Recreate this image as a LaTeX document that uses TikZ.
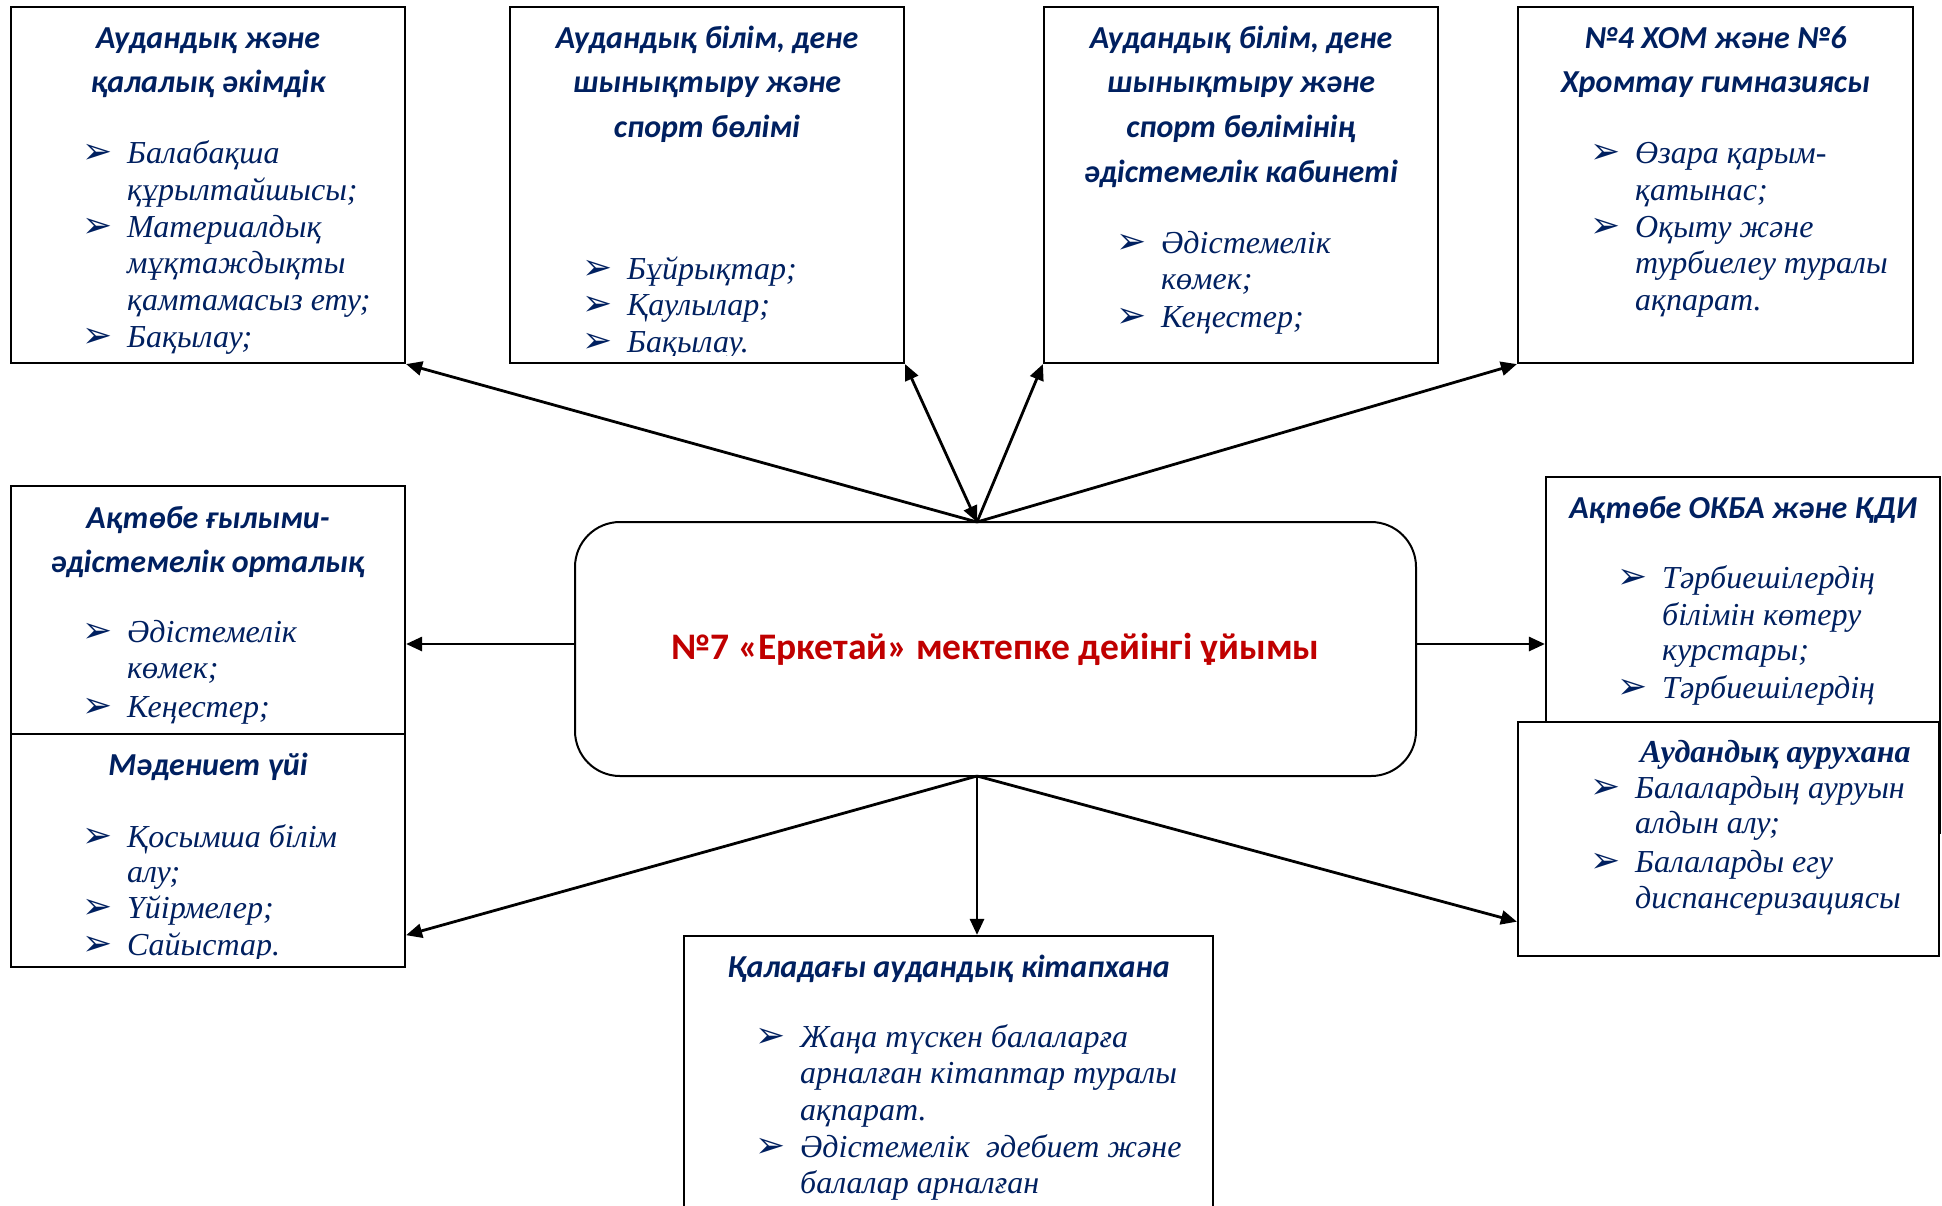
\documentclass[tikz,border=0pt]{standalone}
\usepackage{fontspec}
\setmainfont{Liberation Serif}
\newfontfamily\ttlf{Carlito}
\newfontfamily\mkf{DejaVu Sans}
\usetikzlibrary{arrows.meta,calc}
\definecolor{navy}{HTML}{002060}
\definecolor{redc}{HTML}{C00000}
\newcommand\bul[4]{\node[mrk] (#1m) at (#2,#3) {➢}; \node[itm] (#1) at (#2+45,#3) {#4};}
\newcommand\txl[4]{\node[itm] (#1) at (#2,#3) {#4};}
\newcommand\tline[4]{\node[ttl] (#1) at (#2,#3) {#4};}
\tikzset{
  box/.style={draw=black, line width=2.2pt, fill=white, inner sep=0, rectangle},
  ttl/.style={font=\ttlf\bfseries\itshape\fontsize{32}{38}\selectfont, text=navy, anchor=base, inner sep=0},
  itm/.style={font=\itshape\fontsize{32}{38}\selectfont, text=navy, anchor=base west, inner sep=0},
  mrk/.style={font=\mkf\fontsize{36}{40}\selectfont, text=navy, anchor=base west, inner sep=0},
  arr/.style={draw=black, line width=2.8pt, -{Triangle[length=16pt,width=14pt]}},
  darr/.style={draw=black, line width=2.8pt, {Triangle[length=16pt,width=14pt]}-{Triangle[length=16pt,width=14pt]}},
  cbox/.style={draw=black, line width=2pt, fill=white, rounded corners=45pt, minimum width=841pt, minimum height=254pt, inner sep=0}
}
\begin{document}
\begin{tikzpicture}[x=1pt,y=-1pt]
\clip (0,0) rectangle (1942,1205);
\fill[white] (0,0) rectangle (1942,1205);
% Box 1
\node[box, minimum width=394pt, minimum height=356pt] (b1) at (208,185) {};
\tline{t1a}{208}{48}{Аудандық және}
\tline{t1b}{208}{92}{қалалық әкімдік}
\bul{i1a}{82}{163}{Балабақша}
\txl{i1b}{127}{200}{құрылтайшысы;}
\bul{i1c}{82}{237}{Материалдық}
\txl{i1d}{127}{273}{мұқтаждықты}
\txl{i1e}{127}{310}{қамтамасыз ету;}
\bul{i1f}{82}{347}{Бақылау;}
% Box 2
\node[box, minimum width=394pt, minimum height=356pt] (b2) at (707,185) {};
\tline{t2a}{707}{48}{Аудандық білім, дене}
\tline{t2b}{707}{92}{шынықтыру және}
\tline{t2c}{707}{137}{спорт бөлімі}
\begin{scope}
\clip (512,9) rectangle (902,355);
\bul{i2a}{582}{279}{Бұйрықтар;}
\bul{i2b}{582}{315}{Қаулылар;}
\bul{i2c}{582}{352}{Бақылау.}
\end{scope}
% Box 3
\node[box, minimum width=394pt, minimum height=356pt] (b3) at (1241,185) {};
\tline{t3a}{1241}{48}{Аудандық білім, дене}
\tline{t3b}{1241}{92}{шынықтыру және}
\tline{t3c}{1241}{137}{спорт бөлімінің}
\tline{t3d}{1241}{182}{әдістемелік кабинеті}
\bul{i3a}{1116}{253}{Әдістемелік}
\txl{i3b}{1161}{289}{көмек;}
\bul{i3c}{1116}{327}{Кеңестер;}
% Box 4
\node[box, minimum width=395pt, minimum height=356pt] (b4) at (1715.5,185) {};
\tline{t4a}{1715.5}{48}{№4 ХОМ және №6}
\tline{t4b}{1715.5}{92}{Хромтау гимназиясы}
\bul{i4a}{1590}{163}{Өзара қарым-}
\txl{i4b}{1635}{200}{қатынас;}
\bul{i4c}{1590}{237}{Оқыту және}
\txl{i4d}{1635}{273}{турбиелеу туралы}
\txl{i4e}{1635}{310}{ақпарат.}
% Box 5
\node[box, minimum width=394pt, minimum height=354pt] (b5) at (208,663) {};
\tline{t5a}{208}{528}{Ақтөбе ғылыми-}
\tline{t5b}{208}{572}{әдістемелік орталық}
\bul{i5a}{82}{642}{Әдістемелік}
\txl{i5b}{127}{678}{көмек;}
\bul{i5c}{82}{717}{Кеңестер;}
% Box 6
\node[box, minimum width=394pt, minimum height=233pt] (b6) at (208,850.5) {};
\tline{t6a}{208}{775}{Мәдениет үйі}
\begin{scope}
\clip (13,736) rectangle (403,958);
\bul{i6a}{82}{847}{Қосымша білім}
\txl{i6b}{127}{882}{алу;}
\bul{i6c}{82}{918}{Үйірмелер;}
\bul{i6d}{82}{955}{Сайыстар.}
\end{scope}
% Box 7
\node[box, minimum width=394pt, minimum height=356pt] (b7) at (1743,655) {};
\tline{t7a}{1743}{518}{Ақтөбе ОКБА және ҚДИ}
\bul{i7a}{1617}{588}{Тәрбиешілердің}
\txl{i7b}{1662}{625}{білімін көтеру}
\txl{i7c}{1662}{660}{курстары;}
\bul{i7d}{1617}{698}{Тәрбиешілердің}
% Box 8
\node[box, minimum width=421pt, minimum height=234pt] (b8) at (1728.5,839) {};
\node[font=\bfseries\itshape\fontsize{32}{38}\selectfont, text=navy, anchor=base west, inner sep=0] (t8a) at (1640,762) {Аудандық аурухана};
\bul{i8a}{1590}{798}{Балалардың ауруын}
\txl{i8b}{1635}{833}{алдын алу;}
\bul{i8c}{1590}{872}{Балаларды егу}
\txl{i8d}{1635}{908}{диспансеризациясы}
% Box 9
\node[box, minimum width=529pt, minimum height=324pt] (b9) at (948.5,1098) {};
\tline{t9a}{948.5}{977}{Қаладағы аудандық кітапхана}
\bul{i9a}{755}{1047}{Жаңа түскен балаларға}
\txl{i9b}{800}{1083}{арналған кітаптар туралы}
\txl{i9c}{800}{1120}{ақпарат.}
\bul{i9d}{755}{1157}{Әдістемелік\ \ әдебиет және}
\txl{i9e}{800}{1193}{балалар арналған}
% Centre
\node[cbox] (c) at (995.5,649) {};
\node[font=\ttlf\bfseries\fontsize{37.5}{42}\selectfont, text=redc, anchor=base, inner sep=0] (ctext) at (995.5,659) {№7 «Еркетай» мектепке дейінгі ұйымы};
\coordinate (ct) at (977,522);
\coordinate (cb) at (977,776);
\coordinate (cl) at (575,644);
\coordinate (cr) at (1416,644);
% Arrows
\draw[arr] (ct) -- (b1.south east);
\draw[darr] (ct) -- (b2.south east);
\draw[arr] (ct) -- (b3.south west);
\draw[arr] (ct) -- (b4.south west);
\draw[arr] (cl) -- (cl -| b5.east);
\draw[arr] (cr) -- (cr -| b7.west);
\draw[arr] (cb) -- ($(b6.north east)!0.86!(b6.south east)$);
\draw[arr] (cb) -- ($(b8.north west)!0.85!(b8.south west)$);
\draw[arr] (cb) -- (cb |- b9.north);
\end{tikzpicture}
\end{document}
